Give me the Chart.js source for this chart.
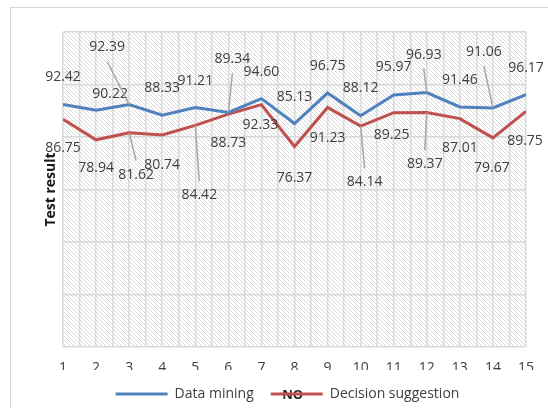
<!DOCTYPE html>
<html>
<head>
<meta charset="utf-8">
<script src="https://cdn.jsdelivr.net/npm/chart.js@4.4.1/dist/chart.umd.min.js"></script>
<style>
    html, body { margin: 0; padding: 0; background: #fff; overflow: hidden; }
    #wrap { position: relative; width: 548px; height: 408px; }
    #frame { position: absolute; left: 10px; top: 7px; width: 560px; height: 420px; border: 1.5px solid #d9d9d9; box-sizing: border-box; }
    #chart { position: absolute; left: 0; top: 0; }
</style>
</head>
<body>
<div id="wrap">
    <div id="frame"></div>
    <canvas id="chart" width="548" height="408"></canvas>
</div>
<script>
// ---- Data ----
const categories = [1, 2, 3, 4, 5, 6, 7, 8, 9, 10, 11, 12, 13, 14, 15];
const dataMining = [92.42, 90.22, 92.39, 88.33, 91.21, 89.34, 94.60, 85.13, 96.75, 88.12, 95.97, 96.93, 91.46, 91.06, 96.17];
const decisionSuggestion = [86.75, 78.94, 81.62, 80.74, 84.42, 88.73, 92.33, 76.37, 91.23, 84.14, 89.25, 89.37, 87.01, 79.67, 89.75];
const yMin = 0;
const yMax = 120;
const yStep = 20;

// ---- Label placement (pixel offsets from each point: dx, dy, leader line) ----
const miningLabelPos = [
    [0, -27, false], [14, -16, false], [-22, -57, true], [0, -27, false], [0, -27, false],
    [4, -53, true], [0, -27, false], [0, -27, false], [0, -27, false], [0, -28, false],
    [0, -28, false], [-3, -38, true], [0, -27, false], [-9, -56, true], [0, -27, false]
];
const suggestionLabelPos = [
    [0, 29, false], [0, 28, false], [7, 42, true], [0, 30, false], [4, 70, true],
    [0, 29, false], [-1, 20, false], [0, 31, false], [0, 30, false], [4, 56, true],
    [-2, 22, false], [-2, 52, true], [0, 29, false], [-1, 30, false], [-1, 30, false]
];

const FONT = "'Open Sans', 'Liberation Sans', sans-serif";
const TEXT = '#404040';
const GRID = '#d9d9d9';

// hatched plot background
function makeHatch() {
    const c = document.createElement('canvas');
    c.width = 4; c.height = 4;
    const g = c.getContext('2d');
    g.fillStyle = '#fff';
    g.fillRect(0, 0, 4, 4);
    g.fillStyle = '#d9d9d9';
    for (let i = 0; i < 4; i++) g.fillRect(i, i, 1, 1);
    return c;
}

const backgroundPlugin = {
    id: 'hatchBg',
    beforeDraw(chart) {
        const { ctx, chartArea: a } = chart;
        ctx.save();
        ctx.fillStyle = ctx.createPattern(makeHatch(), 'repeat');
        ctx.fillRect(a.left, a.top, a.right - a.left, a.bottom - a.top);

        // the stray "NO" under the second legend line
        const hb = chart.legend && chart.legend.legendHitBoxes[1];
        if (hb) {
            ctx.font = 'bold 13px ' + FONT;
            ctx.fillStyle = '#262626';
            ctx.textAlign = 'center';
            ctx.textBaseline = 'middle';
            ctx.fillText('NO', hb.left + 22, hb.top + hb.height / 2 + 1);
        }
        ctx.restore();
    }
};

const labelPlugin = {
    id: 'pointLabels',
    afterDatasetsDraw(chart) {
        const ctx = chart.ctx;
        const placements = [miningLabelPos, suggestionLabelPos];
        ctx.save();
        ctx.font = '14px ' + FONT;
        ctx.textAlign = 'center';
        ctx.textBaseline = 'middle';
        chart.data.datasets.forEach((ds, di) => {
            const meta = chart.getDatasetMeta(di);
            meta.data.forEach((pt, i) => {
                const [dx, dy, leader] = placements[di][i];
                const lx = pt.x + dx;
                const ly = pt.y + dy;
                if (leader) {
                    ctx.strokeStyle = '#a6a6a6';
                    ctx.lineWidth = 1.5;
                    ctx.beginPath();
                    ctx.moveTo(pt.x, pt.y);
                    ctx.lineTo(lx, ly + (dy < 0 ? 14 : -14));
                    ctx.stroke();
                }
                ctx.fillStyle = TEXT;
                ctx.fillText(ds.data[i].y.toFixed(2), lx, ly);
            });
        });
        ctx.restore();
    }
};

new Chart(document.getElementById('chart'), {
    type: 'line',
    data: {
        datasets: [
            {
                label: 'Data mining',
                data: categories.map((c, i) => ({ x: c, y: dataMining[i] })),
                borderColor: '#4f81bd',
                backgroundColor: '#4f81bd',
                borderWidth: 3,
                pointRadius: 0,
                tension: 0
            },
            {
                label: 'Decision suggestion',
                data: categories.map((c, i) => ({ x: c, y: decisionSuggestion[i] })),
                borderColor: '#c0504d',
                backgroundColor: '#c0504d',
                borderWidth: 3,
                pointRadius: 0,
                tension: 0
            }
        ]
    },
    options: {
        responsive: false,
        animation: false,
        devicePixelRatio: 1,
        layout: { padding: { left: 49, right: 22, top: 32, bottom: 0 } },
        plugins: {
            tooltip: { enabled: false },
            legend: {
                position: 'bottom',
                maxHeight: 38,
                labels: {
                    usePointStyle: true,
                    pointStyle: 'line',
                    pointStyleWidth: 52,
                    padding: 17,
                    color: TEXT,
                    font: { family: FONT, size: 14 }
                }
            }
        },
        scales: {
            x: {
                type: 'linear',
                min: categories[0],
                max: categories[categories.length - 1],
                afterFit: (scale) => { scale.height = 23; },
                border: { display: false },
                grid: { color: GRID, lineWidth: 1.5, drawTicks: false },
                ticks: {
                    stepSize: 0.5,
                    autoSkip: false,
                    maxRotation: 0,
                    padding: 13,
                    color: TEXT,
                    font: { family: FONT, size: 14 },
                    callback: (v) => Number.isInteger(v) ? String(v) : ''
                }
            },
            y: {
                min: yMin,
                max: yMax,
                afterFit: (scale) => { scale.width = 14; },
                border: { display: false },
                grid: { color: GRID, lineWidth: 1.5, drawTicks: false },
                ticks: { display: false, stepSize: yStep },
                title: {
                    display: true,
                    text: 'Test result',
                    color: '#1a1a1a',
                    padding: { top: -6, bottom: 0 },
                    font: { family: FONT, size: 14, weight: 'bold' }
                }
            }
        }
    },
    plugins: [backgroundPlugin, labelPlugin]
});
</script>
</body>
</html>
